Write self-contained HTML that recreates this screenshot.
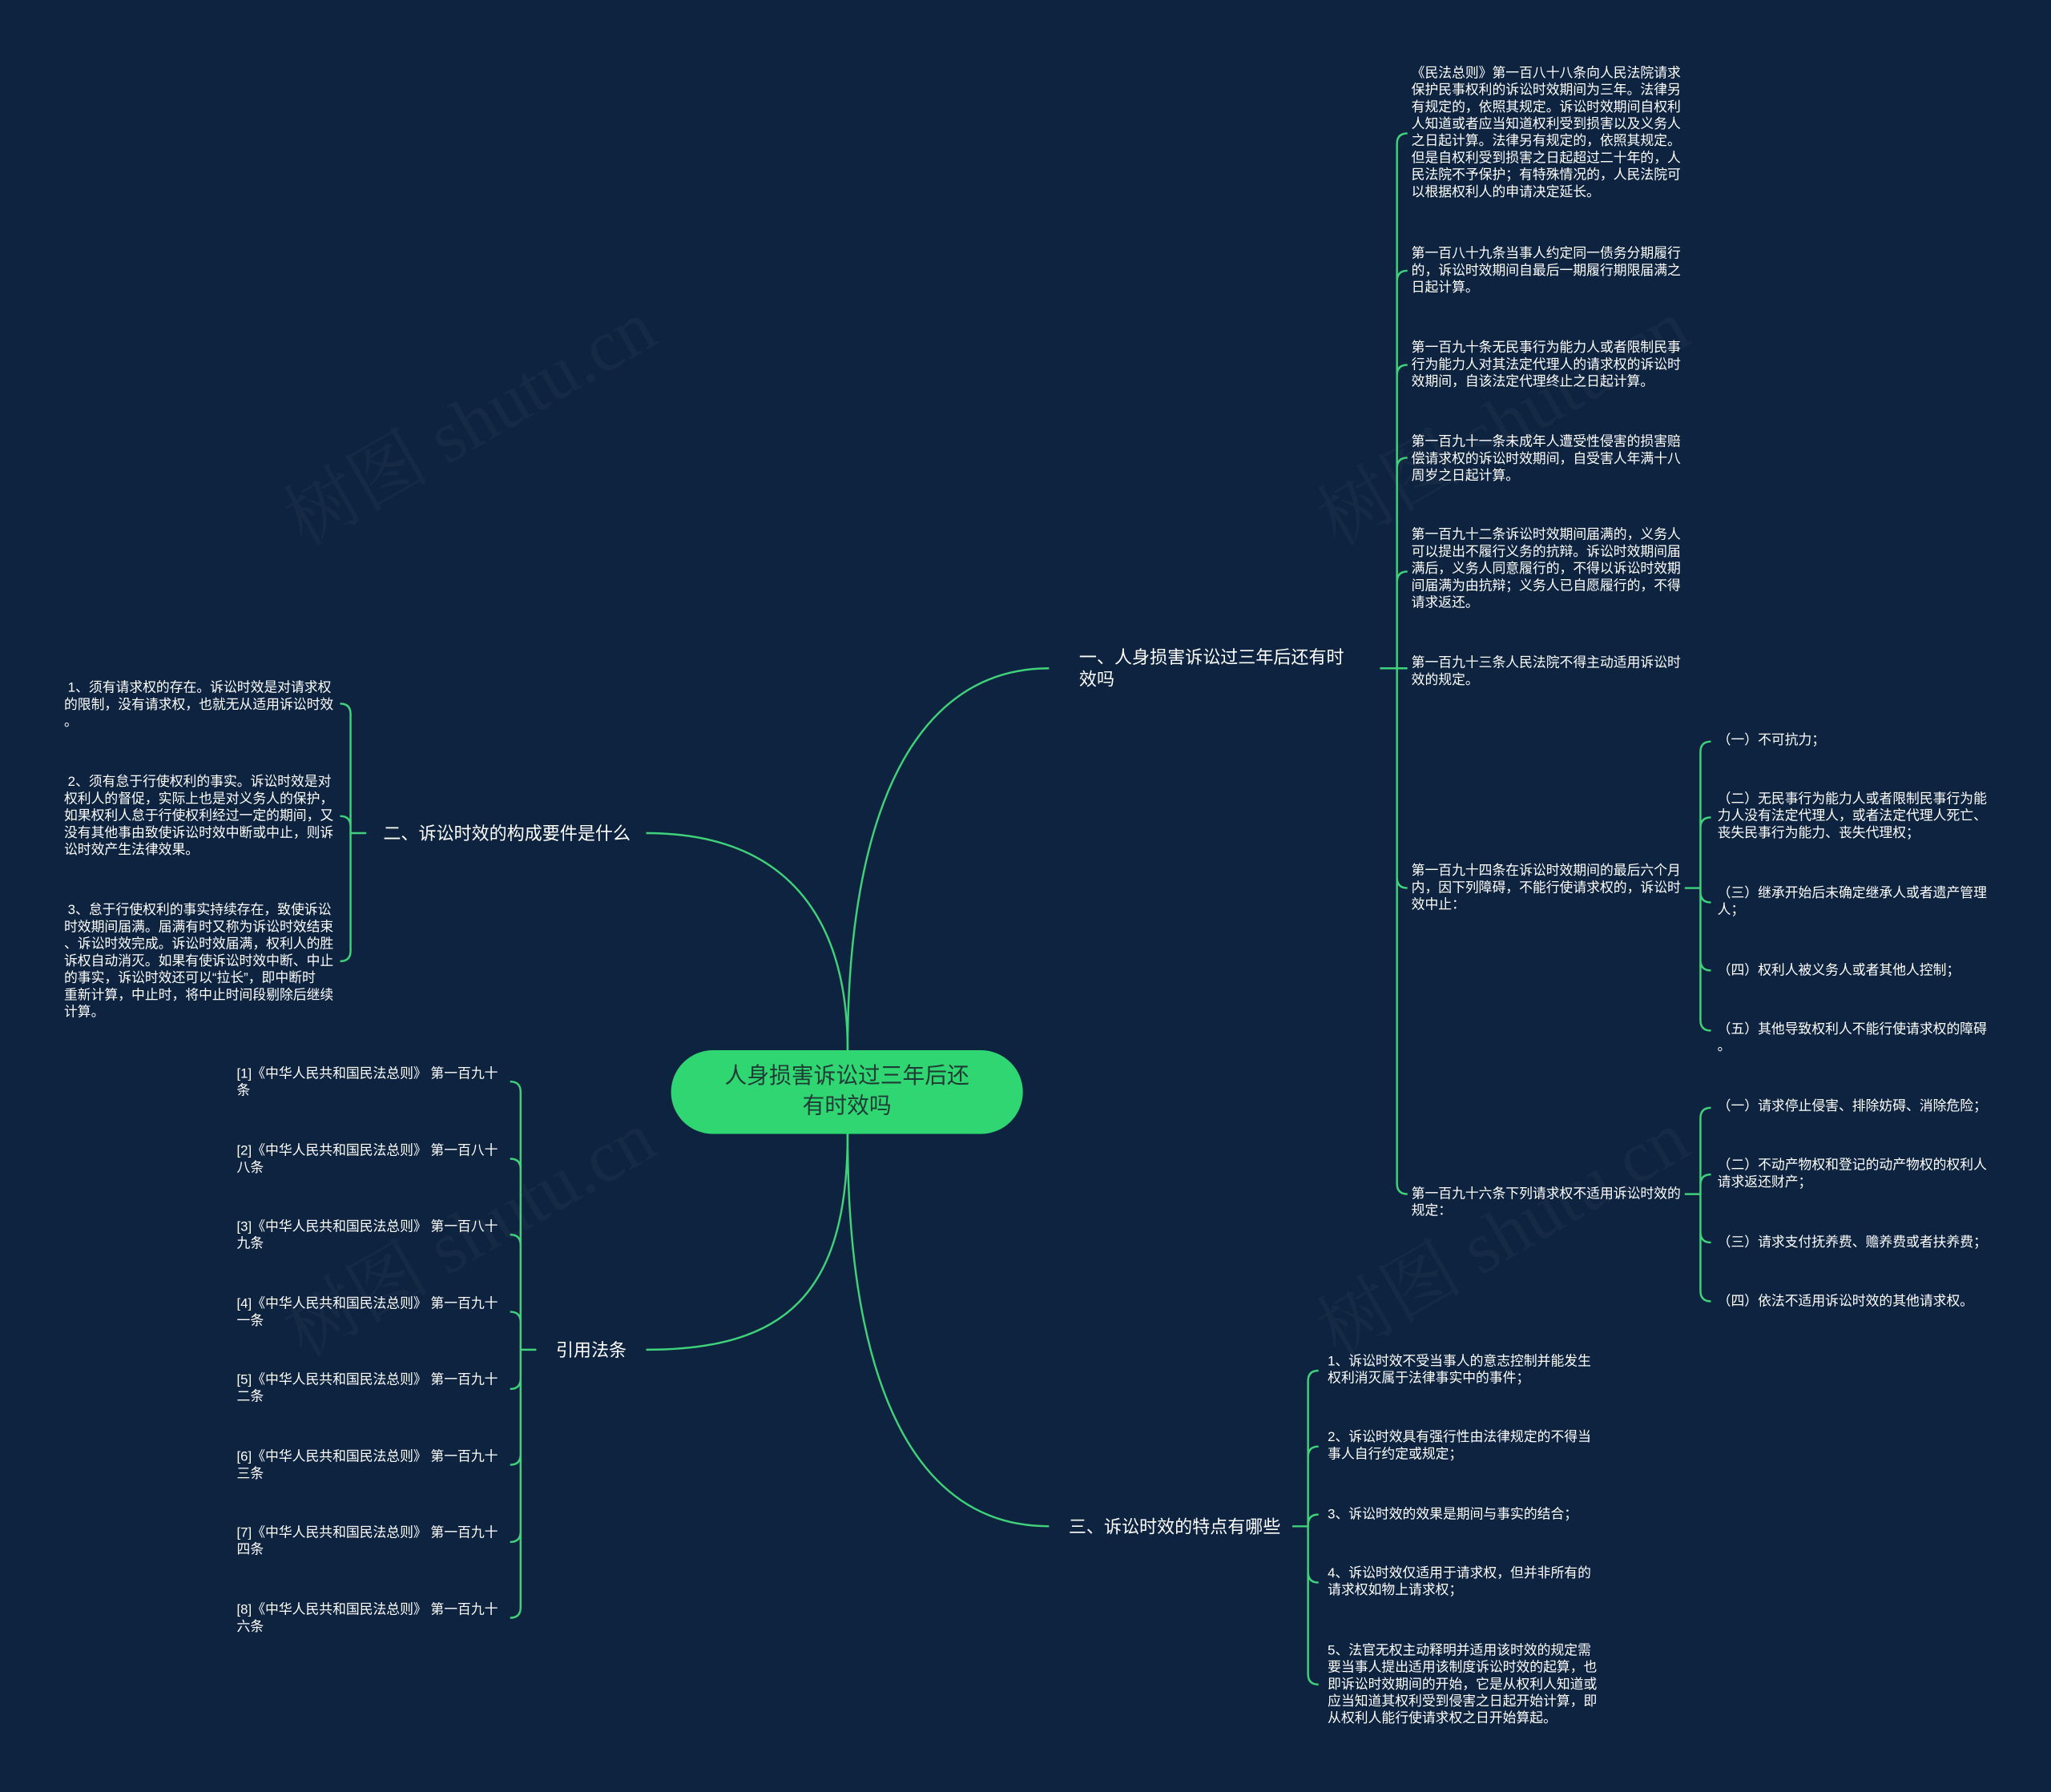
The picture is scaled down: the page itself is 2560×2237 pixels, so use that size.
<!DOCTYPE html>
<html><head><meta charset="utf-8">
<style>
html,body{margin:0;padding:0;background:#0e2340;}
#wrap{width:2560px;height:2237px;overflow:hidden;position:relative;background:#0e2340;}
#c{position:absolute;left:0;top:0;width:1568px;height:1370px;transform:scale(1.63265);transform-origin:0 0;font-family:"Liberation Sans","Noto Sans CJK SC",sans-serif;color:#fff;}
.t{position:absolute;font-size:10.3px;line-height:13px;white-space:nowrap;}
.b{position:absolute;font-size:13.5px;line-height:17px;white-space:nowrap;}
.wm{position:absolute;font-family:"Liberation Serif","Noto Serif CJK SC",serif;font-size:56px;color:rgba(255,255,255,0.035);transform:rotate(-30deg);white-space:nowrap;}
svg{position:absolute;left:0;top:0;}
</style></head><body><div id="wrap"><div id="c">
<div class="wm" style="left:200px;top:280px;">树图 shutu.cn</div>
<div class="wm" style="left:990px;top:280px;">树图 shutu.cn</div>
<div class="wm" style="left:200px;top:900px;">树图 shutu.cn</div>
<div class="wm" style="left:990px;top:900px;">树图 shutu.cn</div>
<svg width="1568" height="1370" viewBox="0 0 1568 1370" fill="none" stroke="#3fd27a" stroke-width="1.5">
<path d="M648,803C648,620 700,511 802,511"/>
<path d="M648,867C648,1060 700,1167 802,1167"/>
<path d="M648,803C648,700 600,637 494,637"/>
<path d="M648,867C648,990 600,1032 494,1032"/>
<path d="M1055,511H1068M1068,511V110Q1068,102 1076,102M1068,511V215Q1068,207 1076,207M1068,511V287Q1068,279 1076,279M1068,511V358Q1068,350 1076,350M1068,511V445Q1068,437 1076,437M1068,511H1076M1068,511V671Q1068,679 1076,679M1068,511V905Q1068,913 1076,913"/>
<path d="M1288,679H1300M1300,679V575Q1300,567 1308,567M1300,679V633Q1300,625 1308,625M1300,679V682Q1300,690 1308,690M1300,679V734Q1300,742 1308,742M1300,679V780Q1300,788 1308,788"/>
<path d="M1288,913H1300M1300,913V855Q1300,847 1308,847M1300,913V906Q1300,898 1308,898M1300,913V942Q1300,950 1308,950M1300,913V987Q1300,995 1308,995"/>
<path d="M988,1167H1000M1000,1167V1056Q1000,1048 1008,1048M1000,1167V1114Q1000,1106 1008,1106M1000,1167V1166Q1000,1158 1008,1158M1000,1167V1202Q1000,1210 1008,1210M1000,1167V1280Q1000,1288 1008,1288"/>
<path d="M280,637H268M268,637V546Q268,538 260,538M268,637V632Q268,624 260,624M268,637V727Q268,735 260,735"/>
<path d="M410,1032H398M398,1032V835Q398,827 390,827M398,1032V894Q398,886 390,886M398,1032V952Q398,944 390,944M398,1032V1011Q398,1003 390,1003M398,1032V1054Q398,1062 390,1062M398,1032V1112Q398,1120 390,1120M398,1032V1171Q398,1179 390,1179M398,1032V1229Q398,1237 390,1237"/>
</svg>
<div style="position:absolute;left:513px;top:803px;width:269px;height:64px;border-radius:32px;background:#2fd672;"></div>
<div style="position:absolute;left:513px;top:811px;width:269px;text-align:center;font-size:17px;line-height:23px;color:#1f3b35;">人身损害诉讼过三年后还<br>有时效吗</div>

<div class="b" style="left:825px;top:494px;">一、人身损害诉讼过三年后还有时<br>效吗</div>
<div class="b" style="left:817px;top:1159px;">三、诉讼时效的特点有哪些</div>
<div class="b" style="left:293px;top:629px;">二、诉讼时效的构成要件是什么</div>
<div class="b" style="left:425px;top:1024px;">引用法条</div>

<div class="t" style="left:1079px;top:50px;">《民法总则》第一百八十八条向人民法院请求<br>保护民事权利的诉讼时效期间为三年。法律另<br>有规定的，依照其规定。诉讼时效期间自权利<br>人知道或者应当知道权利受到损害以及义务人<br>之日起计算。法律另有规定的，依照其规定。<br>但是自权利受到损害之日起超过二十年的，人<br>民法院不予保护；有特殊情况的，人民法院可<br>以根据权利人的申请决定延长。</div>
<div class="t" style="left:1079px;top:188px;">第一百八十九条当事人约定同一债务分期履行<br>的，诉讼时效期间自最后一期履行期限届满之<br>日起计算。</div>
<div class="t" style="left:1079px;top:260px;">第一百九十条无民事行为能力人或者限制民事<br>行为能力人对其法定代理人的请求权的诉讼时<br>效期间，自该法定代理终止之日起计算。</div>
<div class="t" style="left:1079px;top:332px;">第一百九十一条未成年人遭受性侵害的损害赔<br>偿请求权的诉讼时效期间，自受害人年满十八<br>周岁之日起计算。</div>
<div class="t" style="left:1079px;top:403px;">第一百九十二条诉讼时效期间届满的，义务人<br>可以提出不履行义务的抗辩。诉讼时效期间届<br>满后，义务人同意履行的，不得以诉讼时效期<br>间届满为由抗辩；义务人已自愿履行的，不得<br>请求返还。</div>
<div class="t" style="left:1079px;top:501px;">第一百九十三条人民法院不得主动适用诉讼时<br>效的规定。</div>
<div class="t" style="left:1079px;top:660px;">第一百九十四条在诉讼时效期间的最后六个月<br>内，因下列障碍，不能行使请求权的，诉讼时<br>效中止：</div>
<div class="t" style="left:1079px;top:907px;">第一百九十六条下列请求权不适用诉讼时效的<br>规定：</div>

<div class="t" style="left:1313px;top:560px;">（一）不可抗力；</div>
<div class="t" style="left:1313px;top:605px;">（二）无民事行为能力人或者限制民事行为能<br>力人没有法定代理人，或者法定代理人死亡、<br>丧失民事行为能力、丧失代理权；</div>
<div class="t" style="left:1313px;top:677px;">（三）继承开始后未确定继承人或者遗产管理<br>人；</div>
<div class="t" style="left:1313px;top:736px;">（四）权利人被义务人或者其他人控制；</div>
<div class="t" style="left:1313px;top:781px;">（五）其他导致权利人不能行使请求权的障碍<br>。</div>
<div class="t" style="left:1313px;top:840px;">（一）请求停止侵害、排除妨碍、消除危险；</div>
<div class="t" style="left:1313px;top:885px;">（二）不动产物权和登记的动产物权的权利人<br>请求返还财产；</div>
<div class="t" style="left:1313px;top:944px;">（三）请求支付抚养费、赡养费或者扶养费；</div>
<div class="t" style="left:1313px;top:989px;">（四）依法不适用诉讼时效的其他请求权。</div>

<div class="t" style="left:1015px;top:1035px;">1、诉讼时效不受当事人的意志控制并能发生<br>权利消灭属于法律事实中的事件；</div>
<div class="t" style="left:1015px;top:1093px;">2、诉讼时效具有强行性由法律规定的不得当<br>事人自行约定或规定；</div>
<div class="t" style="left:1015px;top:1152px;">3、诉讼时效的效果是期间与事实的结合；</div>
<div class="t" style="left:1015px;top:1197px;">4、诉讼时效仅适用于请求权，但并非所有的<br>请求权如物上请求权；</div>
<div class="t" style="left:1015px;top:1256px;">5、法官无权主动释明并适用该时效的规定需<br>要当事人提出适用该制度诉讼时效的起算，也<br>即诉讼时效期间的开始，它是从权利人知道或<br>应当知道其权利受到侵害之日起开始计算，即<br>从权利人能行使请求权之日开始算起。</div>

<div class="t" style="left:49px;top:520px;">&nbsp;1、须有请求权的存在。诉讼时效是对请求权<br>的限制，没有请求权，也就无从适用诉讼时效<br>。</div>
<div class="t" style="left:49px;top:592px;">&nbsp;2、须有怠于行使权利的事实。诉讼时效是对<br>权利人的督促，实际上也是对义务人的保护，<br>如果权利人怠于行使权利经过一定的期间，又<br>没有其他事由致使诉讼时效中断或中止，则诉<br>讼时效产生法律效果。</div>
<div class="t" style="left:49px;top:690px;">&nbsp;3、怠于行使权利的事实持续存在，致使诉讼<br>时效期间届满。届满有时又称为诉讼时效结束<br>、诉讼时效完成。诉讼时效届满，权利人的胜<br>诉权自动消灭。如果有使诉讼时效中断、中止<br>的事实，诉讼时效还可以“拉长”，即中断时<br>重新计算，中止时，将中止时间段剔除后继续<br>计算。</div>

<div class="t" style="left:181px;top:815px;">[1]《中华人民共和国民法总则》 第一百九十<br>条</div>
<div class="t" style="left:181px;top:874px;">[2]《中华人民共和国民法总则》 第一百八十<br>八条</div>
<div class="t" style="left:181px;top:932px;">[3]《中华人民共和国民法总则》 第一百八十<br>九条</div>
<div class="t" style="left:181px;top:991px;">[4]《中华人民共和国民法总则》 第一百九十<br>一条</div>
<div class="t" style="left:181px;top:1049px;">[5]《中华人民共和国民法总则》 第一百九十<br>二条</div>
<div class="t" style="left:181px;top:1108px;">[6]《中华人民共和国民法总则》 第一百九十<br>三条</div>
<div class="t" style="left:181px;top:1166px;">[7]《中华人民共和国民法总则》 第一百九十<br>四条</div>
<div class="t" style="left:181px;top:1225px;">[8]《中华人民共和国民法总则》 第一百九十<br>六条</div>
</div></div></body></html>
